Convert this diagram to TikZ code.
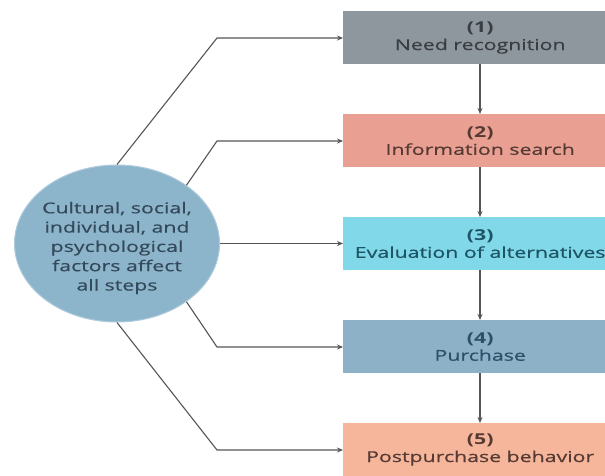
\documentclass[tikz,border=0pt]{standalone}
\usepackage{fontspec}
\setmainfont{Open Sans}[FakeStretch=1.42, UprightFeatures={FakeBold=0.5}]
\usetikzlibrary{arrows.meta,shapes.geometric}
\definecolor{stepgray}{HTML}{8F979E}
\definecolor{stepsalmon}{HTML}{E9A092}
\definecolor{stepcyan}{HTML}{80D8E8}
\definecolor{stepsteel}{HTML}{8DB2C8}
\definecolor{steppeach}{HTML}{F6B69C}
\definecolor{factorfill}{HTML}{8CB5CB}
\definecolor{txtgray}{HTML}{3A3E43}
\definecolor{txtbrown}{HTML}{553A33}
\definecolor{txtteal}{HTML}{1D5466}
\definecolor{txtsteel}{HTML}{2C5068}
\definecolor{txtfactor}{HTML}{34495A}
\definecolor{linegray}{HTML}{555555}
\tikzset{
  x=1pt, y=-1pt,
  stepbox/.style={rectangle, minimum width=274pt, minimum height=53pt, inner sep=0pt,
    anchor=north west, align=center, font=\fontsize{15}{17.5}\selectfont},
  conn/.style={draw=linegray, line width=1.1pt, -{Stealth[length=6pt,width=5pt]}},
}
\begin{document}
\begin{tikzpicture}
\useasboundingbox (0,0) rectangle (605,475);
\clip (0,0) rectangle (605,475);
\fill[white] (0,0) rectangle (605,475);
% process steps
\node[stepbox, fill=stepgray,   text=txtgray]  (s1) at (343,11)  {\textbf{(1)}\\Need recognition};
\node[stepbox, fill=stepsalmon, text=txtbrown] (s2) at (343,114) {\textbf{(2)}\\Information search};
\node[stepbox, fill=stepcyan,   text=txtteal]  (s3) at (343,217) {\textbf{(3)}\\Evaluation of alternatives};
\node[stepbox, fill=stepsteel,  text=txtsteel] (s4) at (343,320) {\textbf{(4)}\\Purchase};
\node[stepbox, fill=steppeach,  text=txtbrown] (s5) at (343,423) {\textbf{(5)}\\Postpurchase behavior};
% influencing factors
\node[ellipse, fill=factorfill, draw=factorfill!70!white, line width=1pt,
  minimum width=205pt, minimum height=157pt, inner sep=0pt] (f) at (117,243.5) {};
\node[align=center, text=txtfactor, font=\fontsize{15}{19.3}\selectfont, inner sep=0pt]
  (ftext) at (117,248) {Cultural, social,\\individual, and\\psychological\\factors affect\\all steps};
% step-to-step arrows
\foreach \a/\b in {s1/s2, s2/s3, s3/s4, s4/s5}
  \draw[conn] (\a.south -| 480,0) -- (\b.north -| 480,0);
% factor arrows
\draw[conn] (f.north) -- (217,38) -- (s1.west |- 0,38);
\draw[conn] (f.40) -- (217,141) -- (s2.west |- 0,141);
\draw[conn] (f.east) -- (s3.west |- f.east);
\draw[conn] (f.-40) -- (217,347) -- (s4.west |- 0,347);
\draw[conn] (f.south) -- (217,450) -- (s5.west |- 0,450);
\end{tikzpicture}
\end{document}
